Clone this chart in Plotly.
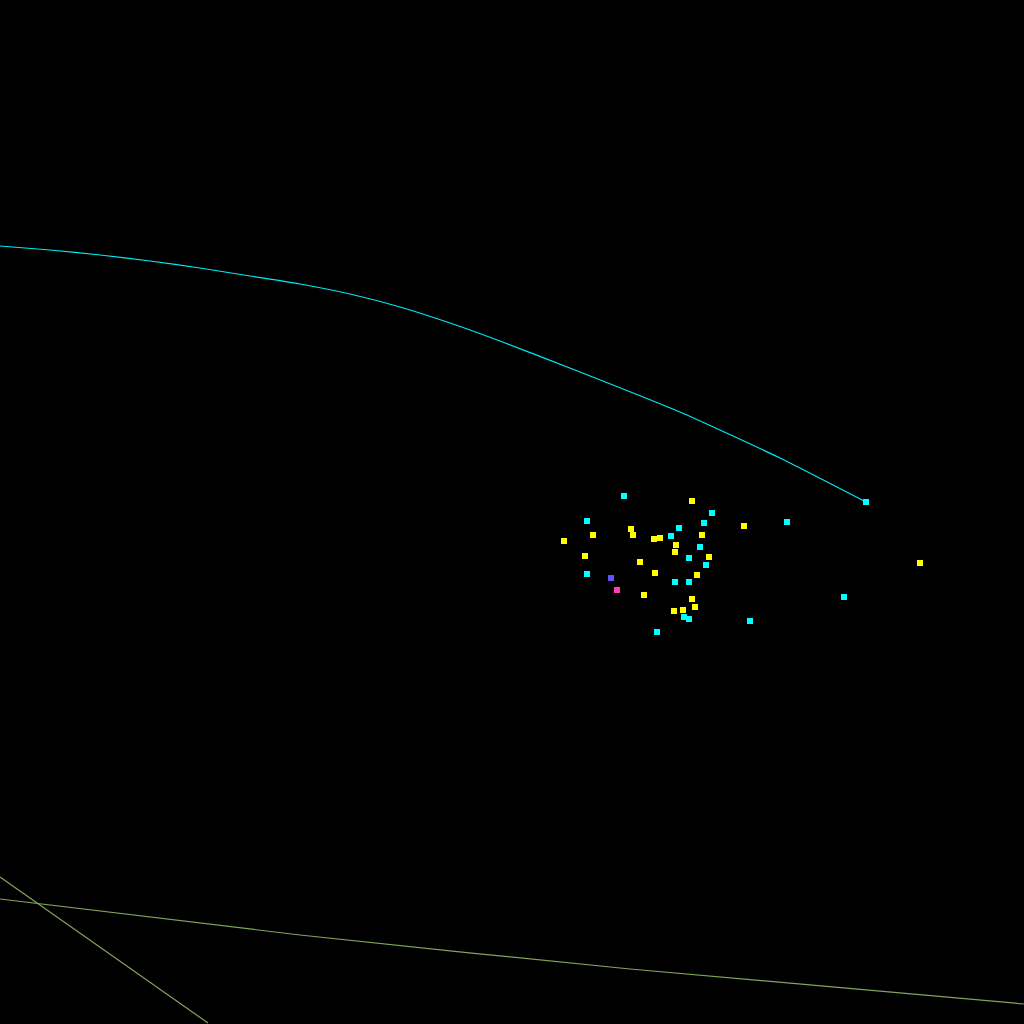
import plotly.graph_objects as go

# positions (view units, y grows downward)
cyan_x = [624, 587, 712, 704, 679, 671, 700, 689, 706, 587, 675, 689, 684, 689, 657, 750, 866, 787, 844]
cyan_y = [496, 521, 513, 523, 528, 536, 547, 558, 565, 574, 582, 582, 617, 619, 632, 621, 502, 522, 597]

yellow_x = [692, 744, 593, 564, 631, 633, 654, 660, 676, 675, 702, 709, 585, 640, 655, 697, 644, 692, 695, 683, 674, 920]
yellow_y = [501, 526, 535, 541, 529, 535, 539, 538, 545, 552, 535, 557, 556, 562, 573, 575, 595, 599, 607, 610, 611, 563]

purple_x = [611]
purple_y = [578]
pink_x = [617]
pink_y = [590]

# cyan trajectory ending at the marker on the right
path_x = [0, 50, 100, 150, 200, 250, 300, 350, 400, 450, 500, 580, 680, 780, 866]
path_y = [246, 250, 255, 261, 268, 276, 284, 294, 307, 323, 341, 372, 412, 458, 502]

# two olive guide lines at the bottom
guide1_x = [0, 300, 630, 1024]
guide1_y = [899, 935, 969, 1004]
guide2_x = [0, 208]
guide2_y = [877, 1023]

olive = 'rgb(130,165,90)'

fig = go.Figure()
fig.add_trace(go.Scatter(x=guide1_x, y=guide1_y, mode='lines',
                         line=dict(color=olive, width=1.2, shape='spline', smoothing=0.6)))
fig.add_trace(go.Scatter(x=guide2_x, y=guide2_y, mode='lines', line=dict(color=olive, width=1.2)))
fig.add_trace(go.Scatter(x=path_x, y=path_y, mode='lines',
                         line=dict(color='rgb(0,235,245)', width=1.2, shape='spline', smoothing=0.5)))
fig.add_trace(go.Scatter(x=cyan_x, y=cyan_y, mode='markers',
                         marker=dict(symbol='square', size=6, color='rgb(0,255,255)', line=dict(width=0))))
fig.add_trace(go.Scatter(x=yellow_x, y=yellow_y, mode='markers',
                         marker=dict(symbol='square', size=6, color='rgb(255,255,0)', line=dict(width=0))))
fig.add_trace(go.Scatter(x=purple_x, y=purple_y, mode='markers',
                         marker=dict(symbol='square', size=6, color='rgb(104,80,255)', line=dict(width=0))))
fig.add_trace(go.Scatter(x=pink_x, y=pink_y, mode='markers',
                         marker=dict(symbol='square', size=6, color='rgb(255,64,170)', line=dict(width=0))))

fig.update_layout(
    width=1024, height=1024,
    margin=dict(l=0, r=0, t=0, b=0),
    paper_bgcolor='black', plot_bgcolor='black',
    showlegend=False,
    xaxis=dict(range=[0, 1024], visible=False, fixedrange=True),
    yaxis=dict(range=[1024, 0], visible=False, fixedrange=True),
)
fig.write_html("out.html", config={'displayModeBar': False},
               post_script="document.body.style.margin='0';document.body.style.background='black';")
